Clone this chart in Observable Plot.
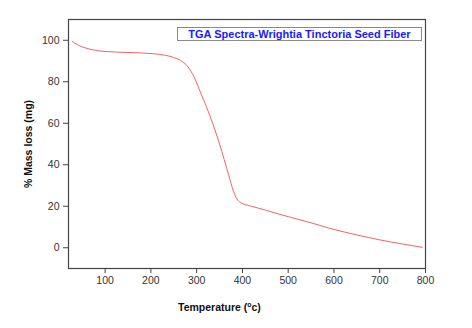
<!DOCTYPE html>
<html>
<head>
<meta charset="utf-8">
<script src="https://cdn.jsdelivr.net/npm/d3@7"></script>
<script src="https://cdn.jsdelivr.net/npm/@observablehq/plot@0.6"></script>
<style>
  body { margin: 0; background: #fff; }
  #wrap { position: relative; width: 472px; height: 328px; font-family: Arial, "Liberation Sans", sans-serif; }
  #legend { position: absolute; left: 177px; top: 27px; width: 243px; height: 12px; border: 1px solid #8a8a8a;
            color: #1a1aff; font-weight: bold; font-size: 11px; line-height: 12px; text-align: center; white-space: nowrap; background: #fff; }
  #ylab { position: absolute; left: 28px; top: 144px; transform: translate(-50%, -50%) rotate(-90deg);
          font-weight: bold; font-size: 10.5px; color: #111; white-space: nowrap; }
  #xlab { position: absolute; left: 178px; top: 301px; font-weight: bold; font-size: 10.5px; color: #111; white-space: nowrap; }
  #xlab sup { font-size: 7px; vertical-align: 4px; line-height: 0; }
</style>
</head>
<body>
<div id="wrap"></div>
<script>
const temperature = [28, 40, 50, 75, 100, 150, 200, 230, 250, 265, 280, 295, 310, 330, 350, 370, 380, 388, 396, 420, 450, 470, 500, 550, 600, 650, 700, 750, 793];
const massLoss    = [99.5, 97.8, 96.8, 95.3, 94.6, 94.1, 93.6, 92.8, 91.7, 90.2, 87.5, 82, 74, 63, 50, 35, 27.5, 23.5, 21.8, 20, 18.2, 16.8, 15, 12, 8.8, 6.2, 3.8, 1.8, 0.2];
const xTicks = [100, 200, 300, 400, 500, 600, 700, 800];
const yTicks = [0, 20, 40, 60, 80, 100];
const legendText = "TGA Spectra-Wrightia Tinctoria Seed Fiber";

const data = temperature.map((t, i) => ({t, m: massLoss[i]}));

const chart = Plot.plot({
  width: 472,
  height: 328,
  marginLeft: 68,
  marginRight: 47,
  marginTop: 19,
  marginBottom: 60,
  style: { fontFamily: "Arial, 'Liberation Sans', sans-serif", fontSize: "10.5px", color: "#333", background: "#fff" },
  x: { domain: [20, 800] },
  y: { domain: [-10, 110] },
  marks: [
    Plot.line(data, { x: "t", y: "m", stroke: "#f26464", strokeWidth: 1, curve: "monotone-x" }),
    Plot.frame({ stroke: "#444", strokeWidth: 1.2 }),
    Plot.axisX({ ticks: xTicks, tickSize: 5, tickPadding: 3, label: null, stroke: "#444", fill: "#333" }),
    Plot.axisY({ ticks: yTicks, tickSize: 5, tickPadding: 4, label: null, stroke: "#444", fill: "#333" })
  ]
});

const wrap = document.getElementById("wrap");
wrap.appendChild(chart);

const legend = document.createElement("div");
legend.id = "legend";
legend.textContent = legendText;
wrap.appendChild(legend);

const ylab = document.createElement("div");
ylab.id = "ylab";
ylab.textContent = "% Mass loss (mg)";
wrap.appendChild(ylab);

const xlab = document.createElement("div");
xlab.id = "xlab";
xlab.innerHTML = "Temperature (<sup>o</sup>c)";
wrap.appendChild(xlab);
</script>
</body>
</html>
